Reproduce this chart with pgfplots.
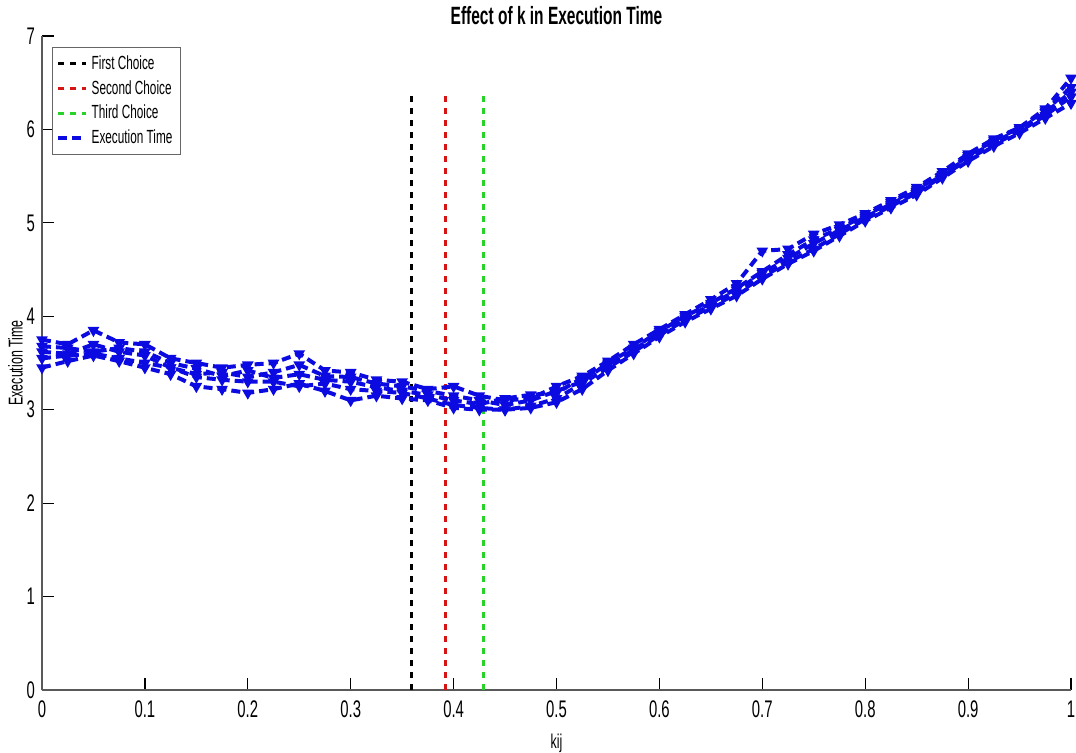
\documentclass[border=0pt]{standalone}
\usepackage{pgfplots}
\pgfplotsset{compat=1.18}
\usepackage{fontspec}
\setmainfont{Liberation Sans}[FakeStretch=0.62]
\definecolor{exblue}{RGB}{10,10,225}
\definecolor{thirdgreen}{RGB}{40,210,40}
\definecolor{secred}{RGB}{215,20,20}
\begin{document}
\begin{tikzpicture}
\begin{axis}[
  at={(0,0)}, anchor=south west,
  scale only axis,
  width=514.5pt, height=327pt,
  xmin=0, xmax=1, ymin=0, ymax=7,
  xtick={0,0.1,...,1}, ytick={0,1,...,7},
  xticklabels={0,0.1,0.2,0.3,0.4,0.5,0.6,0.7,0.8,0.9,1},
  axis lines*=left,
  axis line style={gray!70!black, line width=0.8pt},
  tick align=inside,
  major tick length=6pt,
  tick style={black, line width=0.6pt},
  /pgf/number format/assume math mode=true,
  tick label style={font=\fontsize{12}{12}\selectfont},
  xticklabel style={yshift=-2pt},
  title={\bfseries Effect of k in Execution Time},
  title style={font=\fontsize{12.5}{13}\selectfont, yshift=-4pt},
  xlabel={kij},
  ylabel={Execution Time},
  label style={font=\fontsize{10}{10}\selectfont},
  xlabel style={yshift=-1pt},
  ylabel style={yshift=-5pt},
  legend style={at={(0.0097,0.983)}, anchor=north west, draw=gray!80!black,
    font=\fontsize{9.5}{11}\selectfont, inner sep=2pt, row sep=0pt,
    legend cell align=left},
  legend image code/.code={\draw[#1] (0cm,0cm) -- (0.48cm,0cm);},
  clip=false,
]
\addplot[black, line width=1.5pt, dash pattern=on 3pt off 3pt] coordinates {(0.359,0) (0.359,6.36)};
\addlegendentry{First Choice}
\addplot[secred, line width=1.5pt, dash pattern=on 3pt off 3pt] coordinates {(0.392,0) (0.392,6.36)};
\addlegendentry{Second Choice}
\addplot[thirdgreen, line width=1.5pt, dash pattern=on 3pt off 3pt] coordinates {(0.429,0) (0.429,6.36)};
\addlegendentry{Third Choice}
\addplot[exblue, line width=2pt, dash pattern=on 4.5pt off 2.5pt, mark=triangle*, mark size=1.4pt, mark options={solid, rotate=180}] coordinates {
(0.000,3.75) (0.025,3.70) (0.050,3.85) (0.075,3.72) (0.100,3.70) (0.125,3.55) (0.150,3.50) (0.175,3.45) (0.200,3.48) (0.225,3.50)
(0.250,3.60) (0.275,3.42) (0.300,3.40) (0.325,3.32) (0.350,3.30) (0.375,3.22) (0.400,3.25) (0.425,3.15) (0.450,3.10) (0.475,3.12)
(0.500,3.25) (0.525,3.36) (0.550,3.52) (0.575,3.70) (0.600,3.86) (0.625,4.02) (0.650,4.18) (0.675,4.35) (0.700,4.70) (0.725,4.72)
(0.750,4.88) (0.775,4.98) (0.800,5.10) (0.825,5.24) (0.850,5.38) (0.875,5.55) (0.900,5.74) (0.925,5.90) (0.950,6.02) (0.975,6.22) (1.000,6.55)};
\addlegendentry{Execution Time}
\addplot[exblue, line width=2pt, dash pattern=on 4.5pt off 2.5pt, mark=triangle*, mark size=1.4pt, mark options={solid, rotate=180}, forget plot] coordinates {
(0.000,3.62) (0.025,3.60) (0.050,3.70) (0.075,3.62) (0.100,3.58) (0.125,3.45) (0.150,3.38) (0.175,3.40) (0.200,3.35) (0.225,3.40)
(0.250,3.48) (0.275,3.36) (0.300,3.35) (0.325,3.28) (0.350,3.25) (0.375,3.20) (0.400,3.15) (0.425,3.10) (0.450,3.05) (0.475,3.10)
(0.500,3.20) (0.525,3.30) (0.550,3.50) (0.575,3.66) (0.600,3.84) (0.625,4.00) (0.650,4.14) (0.675,4.30) (0.700,4.48) (0.725,4.66)
(0.750,4.82) (0.775,4.94) (0.800,5.08) (0.825,5.22) (0.850,5.36) (0.875,5.52) (0.900,5.72) (0.925,5.88) (0.950,6.02) (0.975,6.20) (1.000,6.45)};
\addplot[exblue, line width=2pt, dash pattern=on 4.5pt off 2.5pt, mark=triangle*, mark size=1.4pt, mark options={solid, rotate=180}, forget plot] coordinates {
(0.000,3.55) (0.025,3.58) (0.050,3.60) (0.075,3.55) (0.100,3.50) (0.125,3.45) (0.150,3.35) (0.175,3.32) (0.200,3.30) (0.225,3.30)
(0.250,3.25) (0.275,3.28) (0.300,3.22) (0.325,3.20) (0.350,3.18) (0.375,3.12) (0.400,3.05) (0.425,3.02) (0.450,3.00) (0.475,3.04)
(0.500,3.12) (0.525,3.28) (0.550,3.45) (0.575,3.62) (0.600,3.80) (0.625,3.96) (0.650,4.10) (0.675,4.24) (0.700,4.42) (0.725,4.58)
(0.750,4.72) (0.775,4.88) (0.800,5.04) (0.825,5.18) (0.850,5.32) (0.875,5.50) (0.900,5.68) (0.925,5.84) (0.950,5.98) (0.975,6.15) (1.000,6.35)};
\addplot[exblue, line width=2pt, dash pattern=on 4.5pt off 2.5pt, mark=triangle*, mark size=1.4pt, mark options={solid, rotate=180}, forget plot] coordinates {
(0.000,3.45) (0.025,3.52) (0.050,3.58) (0.075,3.52) (0.100,3.45) (0.125,3.38) (0.150,3.25) (0.175,3.22) (0.200,3.18) (0.225,3.22)
(0.250,3.28) (0.275,3.20) (0.300,3.10) (0.325,3.15) (0.350,3.12) (0.375,3.10) (0.400,3.02) (0.425,3.00) (0.450,3.00) (0.475,3.02)
(0.500,3.08) (0.525,3.22) (0.550,3.42) (0.575,3.60) (0.600,3.78) (0.625,3.94) (0.650,4.08) (0.675,4.22) (0.700,4.40) (0.725,4.56)
(0.750,4.70) (0.775,4.86) (0.800,5.02) (0.825,5.16) (0.850,5.30) (0.875,5.48) (0.900,5.66) (0.925,5.82) (0.950,5.96) (0.975,6.12) (1.000,6.28)};
\addplot[exblue, line width=2pt, dash pattern=on 4.5pt off 2.5pt, mark=triangle*, mark size=1.4pt, mark options={solid, rotate=180}, forget plot] coordinates {
(0.000,3.68) (0.025,3.66) (0.050,3.62) (0.075,3.66) (0.100,3.62) (0.125,3.50) (0.150,3.44) (0.175,3.36) (0.200,3.42) (0.225,3.34)
(0.250,3.38) (0.275,3.32) (0.300,3.30) (0.325,3.24) (0.350,3.20) (0.375,3.16) (0.400,3.10) (0.425,3.06) (0.450,3.12) (0.475,3.16)
(0.500,3.18) (0.525,3.34) (0.550,3.48) (0.575,3.64) (0.600,3.82) (0.625,3.98) (0.650,4.12) (0.675,4.28) (0.700,4.46) (0.725,4.62)
(0.750,4.78) (0.775,4.92) (0.800,5.06) (0.825,5.20) (0.850,5.34) (0.875,5.51) (0.900,5.70) (0.925,5.86) (0.950,6.00) (0.975,6.18) (1.000,6.40)};
\end{axis}
\pgfresetboundingbox
\path[use as bounding box] (-21pt,-31pt) rectangle (517pt,345pt);
\end{tikzpicture}
\end{document}
